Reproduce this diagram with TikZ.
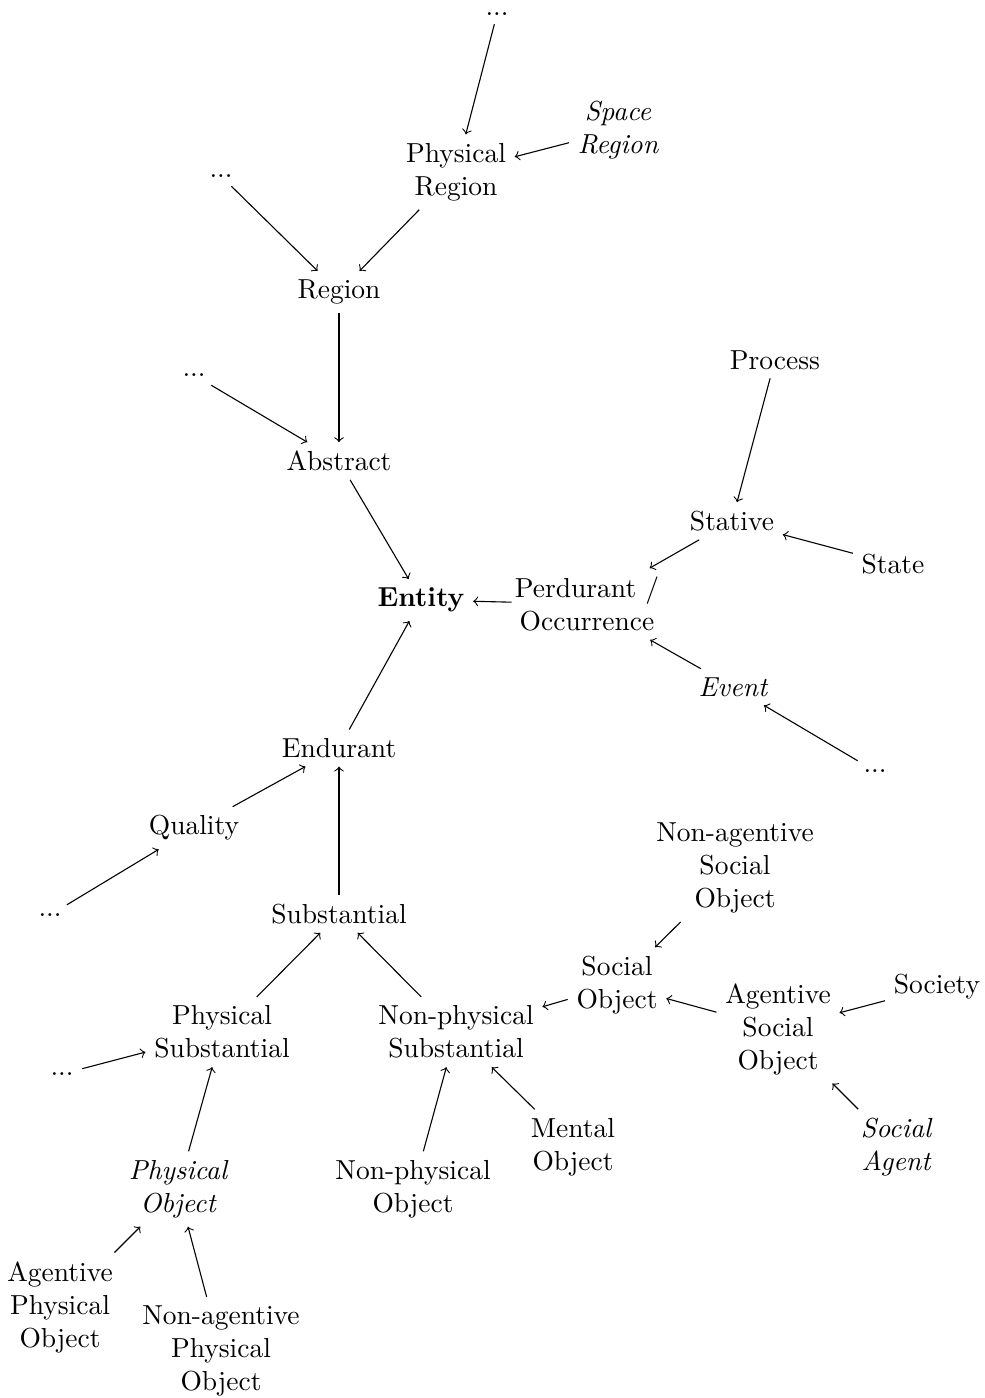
\documentclass[tikz,border=0pt]{standalone}
\begin{document}
\begin{tikzpicture}[x=0.363636pt, y=-0.363636pt,
  concept/.style={align=center, inner sep=3pt},
  isa/.style={->}]
\useasboundingbox (0,0) rectangle (984,1398);

% top-level categories
\node[concept] (entity) at (421,600) {\textbf{Entity}};
\node[concept, inner xsep=1pt] (perdurant) at (587,604) {Perdurant /\\Occurrence};
\node[concept] (abstract) at (339,461) {Abstract};
\node[concept] (endurant) at (339,748) {Endurant};

% abstract branch
\node[concept] (region) at (339,292) {Region};
\node[concept] (dotsA) at (194,375) {...};
\node[concept] (dotsR) at (221,176) {...};
\node[concept] (physregion) at (456,172) {Physical\\Region};
\node[concept] (dotsTop) at (497,14) {...};
\node[concept] (spaceregion) at (618,130) {\itshape Space\\\itshape Region};

% perdurant branch
\node[concept] (stative) at (732,521) {Stative};
\node[concept] (process) at (775,360) {Process};
\node[concept] (state) at (893,564) {State};
\node[concept] (event) at (733,687) {\itshape Event};
\node[concept] (dotsE) at (875,771) {...};

% endurant branch
\node[concept] (quality) at (194,828) {Quality};
\node[concept] (dotsQ) at (50,915) {...};
\node[concept] (substantial) at (339,914) {Substantial};
\node[concept] (physsubst) at (222,1032) {Physical\\Substantial};
\node[concept] (dotsP) at (62,1074) {...};
\node[concept] (physobj) at (178,1189) {\itshape Physical\\\itshape Object};
\node[concept] (agphysobj) at (60,1307) {Agentive\\Physical\\Object};
\node[concept] (nagphysobj) at (221,1351) {Non-agentive\\Physical\\Object};
\node[concept] (nphyssubst) at (456,1032) {Non-physical\\Substantial};
\node[concept] (nphysobj) at (413,1189) {Non-physical\\Object};
\node[concept] (mental) at (573,1147) {Mental\\Object};
\node[concept] (socialobj) at (617,985) {Social\\Object};
\node[concept] (nagsocial) at (735,868) {Non-agentive\\Social\\Object};
\node[concept] (agsocial) at (778,1029) {Agentive\\Social\\Object};
\node[concept] (society) at (937,987) {Society};
\node[concept] (socialagent) at (896,1147) {\itshape Social\\\itshape Agent};

% subsumption links, child -> parent
\draw[isa] (abstract) -- (entity);
\draw[isa] (endurant) -- (entity);
\draw[isa] (perdurant) -- (entity);
\draw[isa] (region) -- (abstract);
\draw[isa] (dotsA) -- (abstract);
\draw[isa] (dotsR) -- (region);
\draw[isa] (physregion) -- (region);
\draw[isa] (dotsTop) -- (physregion);
\draw[isa] (spaceregion) -- (physregion);
\draw[isa] (stative) -- (perdurant);
\draw[isa] (event) -- (perdurant);
\draw[isa] (process) -- (stative);
\draw[isa] (state) -- (stative);
\draw[isa] (dotsE) -- (event);
\draw[isa] (quality) -- (endurant);
\draw[isa] (substantial) -- (endurant);
\draw[isa] (dotsQ) -- (quality);
\draw[isa] (physsubst) -- (substantial);
\draw[isa] (nphyssubst) -- (substantial);
\draw[isa] (dotsP) -- (physsubst);
\draw[isa] (physobj) -- (physsubst);
\draw[isa] (agphysobj) -- (physobj);
\draw[isa] (nagphysobj) -- (physobj);
\draw[isa] (nphysobj) -- (nphyssubst);
\draw[isa] (mental) -- (nphyssubst);
\draw[isa] (socialobj) -- (nphyssubst);
\draw[isa] (nagsocial) -- (socialobj);
\draw[isa] (agsocial) -- (socialobj);
\draw[isa] (society) -- (agsocial);
\draw[isa] (socialagent) -- (agsocial);
\end{tikzpicture}
\end{document}
